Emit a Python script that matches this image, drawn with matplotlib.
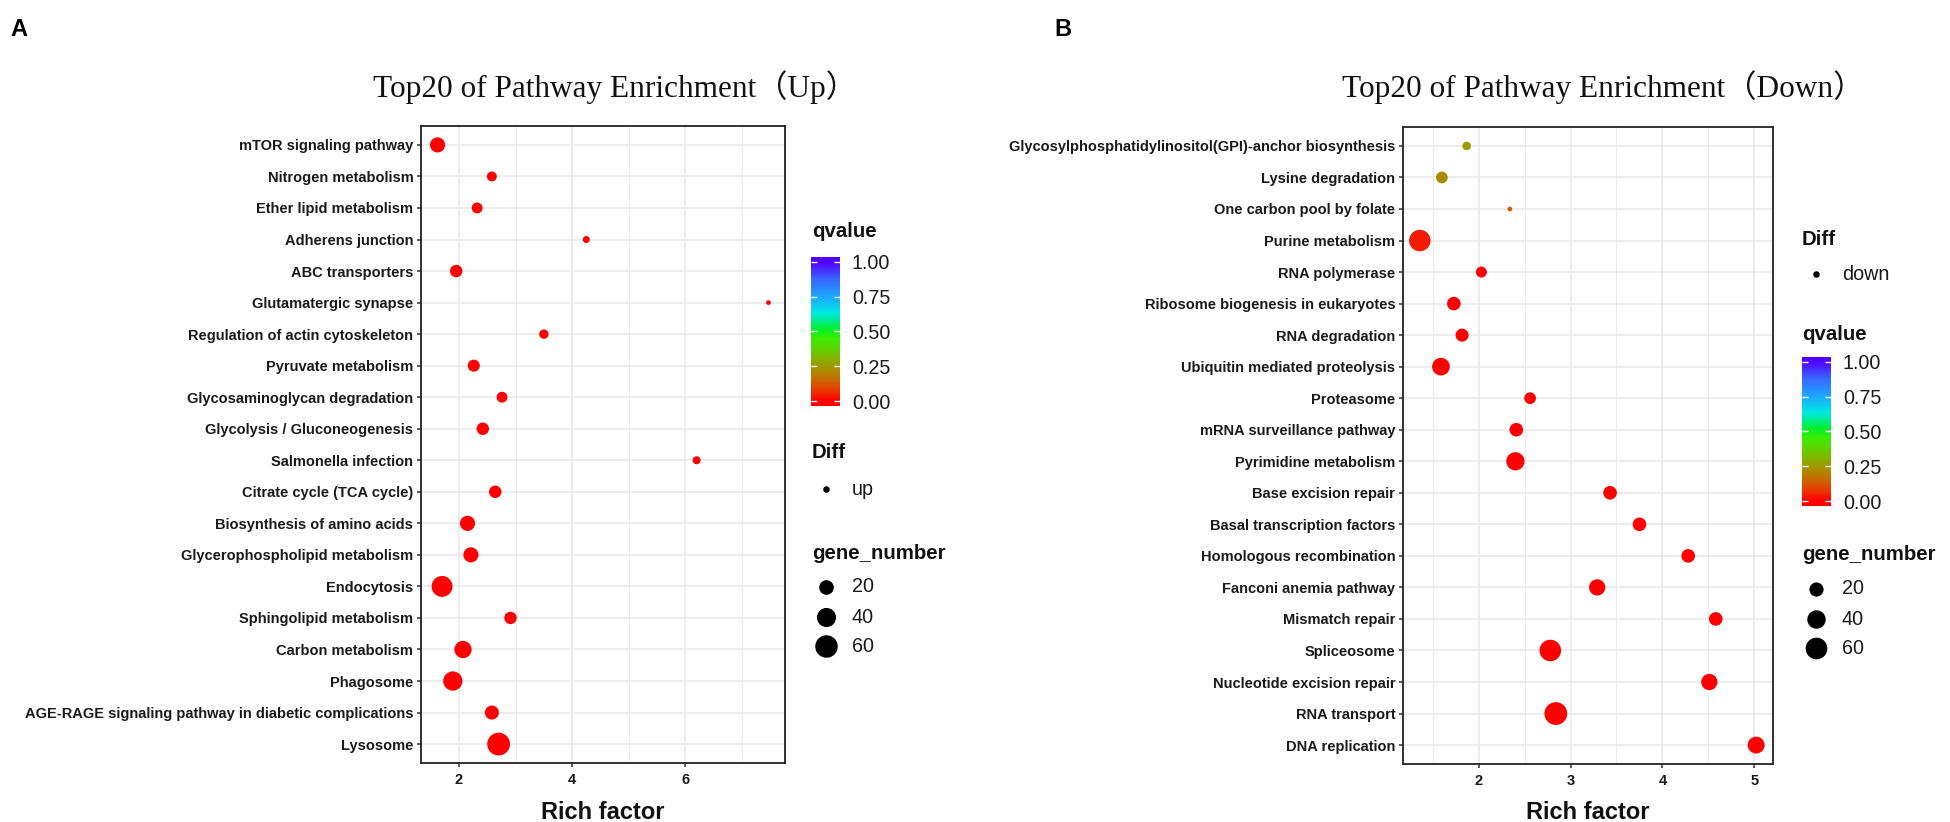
import numpy as np
import matplotlib
matplotlib.use("Agg")
import matplotlib.pyplot as plt
from matplotlib.colors import LinearSegmentedColormap
from matplotlib.lines import Line2D
from matplotlib.ticker import MultipleLocator

# DATA
up_pathways = [
    "mTOR signaling pathway", "Nitrogen metabolism", "Ether lipid metabolism",
    "Adherens junction", "ABC transporters", "Glutamatergic synapse",
    "Regulation of actin cytoskeleton", "Pyruvate metabolism",
    "Glycosaminoglycan degradation", "Glycolysis / Gluconeogenesis",
    "Salmonella infection", "Citrate cycle (TCA cycle)",
    "Biosynthesis of amino acids", "Glycerophospholipid metabolism",
    "Endocytosis", "Sphingolipid metabolism", "Carbon metabolism", "Phagosome",
    "AGE-RAGE signaling pathway in diabetic complications", "Lysosome",
]
up_rich = [1.62, 2.58, 2.32, 4.25, 1.95, 7.47, 3.50, 2.26, 2.76, 2.42,
           6.20, 2.64, 2.15, 2.21, 1.70, 2.91, 2.07, 1.89, 2.58, 2.70]
up_genes = [22, 7, 9, 3, 13, 2, 6, 12, 9, 13, 4, 13, 22, 22, 50, 13, 31, 41, 18, 62]
up_qvalue = [0.0] * 20

down_pathways = [
    "Glycosylphosphatidylinositol(GPI)-anchor biosynthesis", "Lysine degradation",
    "One carbon pool by folate", "Purine metabolism", "RNA polymerase",
    "Ribosome biogenesis in eukaryotes", "RNA degradation",
    "Ubiquitin mediated proteolysis", "Proteasome", "mRNA surveillance pathway",
    "Pyrimidine metabolism", "Base excision repair", "Basal transcription factors",
    "Homologous recombination", "Fanconi anemia pathway", "Mismatch repair",
    "Spliceosome", "Nucleotide excision repair", "RNA transport", "DNA replication",
]
down_rich = [1.87, 1.60, 2.34, 1.36, 2.03, 1.73, 1.82, 1.59, 2.56, 2.41,
             2.40, 3.43, 3.75, 4.28, 3.29, 4.58, 2.78, 4.51, 2.84, 5.02]
down_genes = [5, 12, 2, 59, 10, 18, 16, 36, 12, 18, 39, 18, 18, 18, 29, 18, 59, 29, 68, 32]
down_qvalue = [0.25, 0.22, 0.13, 0.04] + [0.0] * 16

legend_sizes = [20, 40, 60]
qvalue_ticks = [0.0, 0.25, 0.5, 0.75, 1.0]

W, H = 1950, 822
fig = plt.figure(figsize=(W / 100, H / 100), dpi=100)
plt.rcParams['font.family'] = ['Liberation Sans', 'DejaVu Sans']

# colour scale for qvalue: red -> olive -> green -> cyan -> blue/violet
qcmap = LinearSegmentedColormap.from_list("qv", [
    (0.0, '#FF0000'), (0.08, '#E83A00'), (0.16, '#C46E00'), (0.25, '#9E9A00'),
    (0.35, '#6CC800'), (0.45, '#3CEE00'), (0.52, '#00F030'), (0.63, '#00EAE0'),
    (0.75, '#1EA8FF'), (0.88, '#3A64FF'), (1.0, '#5200FF')])

DMIN, DMAX = 4.7, 22.8   # point diameters in px


def diam(v, vmin, vmax):
    return DMIN + (DMAX - DMIN) * np.sqrt((np.asarray(v, float) - vmin) / (vmax - vmin))


def fx(x):
    return x / W


def fy(y):
    return 1 - y / H


def draw_panel(box, pathways, rich, genes, qvals, major, minor):
    l, t, r, b = box
    ax = fig.add_axes([fx(l), fy(b), fx(r) - fx(l), fy(t) - fy(b)])
    ypos = np.arange(len(pathways))
    d = diam(genes, min(genes), max(genes))
    ax.scatter(rich, ypos, s=(d * 0.72) ** 2, c=qcmap(np.array(qvals)),
               edgecolors='none', zorder=3)
    lo, hi = min(rich), max(rich)
    ax.set_xlim(lo - 0.05 * (hi - lo), hi + 0.05 * (hi - lo))
    ax.set_ylim(len(pathways) - 0.4, -0.6)
    ax.set_yticks(ypos)
    ax.set_yticklabels(pathways)
    ax.xaxis.set_major_locator(MultipleLocator(major))
    ax.xaxis.set_minor_locator(MultipleLocator(minor))
    ax.set_axisbelow(True)
    ax.grid(which='major', color='#EBEBEB', lw=1.3)
    ax.grid(which='minor', axis='x', color='#EBEBEB', lw=0.7)
    ax.tick_params(which='major', length=3, width=1.1, color='#333333',
                   labelsize=10.5, labelcolor='#1a1a1a', pad=2.5)
    ax.tick_params(which='minor', length=0)
    ax.tick_params(axis='x', pad=4)
    for lab in ax.get_xticklabels() + ax.get_yticklabels():
        lab.set_fontweight('bold')
    for sp in ax.spines.values():
        sp.set_color('#222222')
        sp.set_linewidth(1.3)
    fig.text(fx((l + r) / 2), fy(812), "Rich factor", ha='center', va='center',
             fontsize=17, fontweight='bold', color='#111111')
    return ax


def draw_colorbar(x, top, bottom):
    cax = fig.add_axes([fx(x), fy(bottom), fx(x + 29) - fx(x), fy(top) - fy(bottom)])
    ext = 0.033
    grad = np.linspace(-ext, 1 + ext, 256).reshape(-1, 1)
    cax.imshow(np.clip(grad, 0, 1), aspect='auto', cmap=qcmap, origin='lower',
               extent=[0, 1, -ext, 1 + ext], vmin=0, vmax=1)
    cax.set_xlim(0, 1)
    cax.set_ylim(-ext, 1 + ext)
    cax.hlines(qvalue_ticks, 0, 0.2, color='white', lw=1)
    cax.hlines(qvalue_ticks, 0.8, 1, color='white', lw=1)
    cax.set_xticks([])
    cax.yaxis.tick_right()
    cax.set_yticks(qvalue_ticks)
    cax.set_yticklabels(["%.2f" % v for v in qvalue_ticks])
    cax.tick_params(length=0, labelsize=14.2, labelcolor='#1a1a1a', pad=8.5)
    for sp in cax.spines.values():
        sp.set_visible(False)


def legend_title(x, y, s):
    fig.text(fx(x), fy(y), s, ha='left', va='center', fontsize=14.7,
             fontweight='bold', color='#111111')


def legend_key(x, y, d, s):
    fig.add_artist(Line2D([fx(x)], [fy(y)], marker='o', ms=d * 0.72, color='black',
                          mec='none', linestyle='none', transform=fig.transFigure))
    fig.text(fx(x + 26), fy(y), s, ha='left', va='center', fontsize=14.2,
             color='#1a1a1a')


title_font = ['Liberation Serif', 'Noto Sans CJK SC']

# PANEL A (up)
draw_panel((421, 126, 785, 763), up_pathways, up_rich, up_genes, up_qvalue, 2, 1)
fig.text(fx(615), fy(97), "Top20 of Pathway Enrichment（Up）", ha='center',
         va='baseline', fontsize=22.5, family=title_font, color='#111111')
fig.text(fx(19), fy(29), "A", ha='center', va='center', fontsize=17,
         fontweight='bold')
legend_title(812, 231, "qvalue")
draw_colorbar(811, 257, 406)
legend_title(812, 452, "Diff")
legend_key(826, 489, 6.5, "up")
legend_title(812, 553, "gene_number")
for yy, g in zip([587, 617, 646], legend_sizes):
    legend_key(826, yy, float(diam(g, min(up_genes), max(up_genes))), str(g))

# PANEL B (down)
draw_panel((1403, 127, 1773, 764), down_pathways, down_rich, down_genes, down_qvalue, 1, 0.5)
fig.text(fx(1603), fy(97), "Top20 of Pathway Enrichment（Down）", ha='center',
         va='baseline', fontsize=22.5, family=title_font, color='#111111')
fig.text(fx(1063), fy(29), "B", ha='center', va='center', fontsize=17,
         fontweight='bold')
legend_title(1802, 239, "Diff")
legend_key(1816, 274, 6.5, "down")
legend_title(1802, 334, "qvalue")
draw_colorbar(1802, 357, 506)
legend_title(1802, 555, "gene_number")
for yy, g in zip([589, 619, 648], legend_sizes):
    legend_key(1816, yy, float(diam(g, min(down_genes), max(down_genes))), str(g))

fig.savefig("out.png", dpi=100, facecolor='white')
